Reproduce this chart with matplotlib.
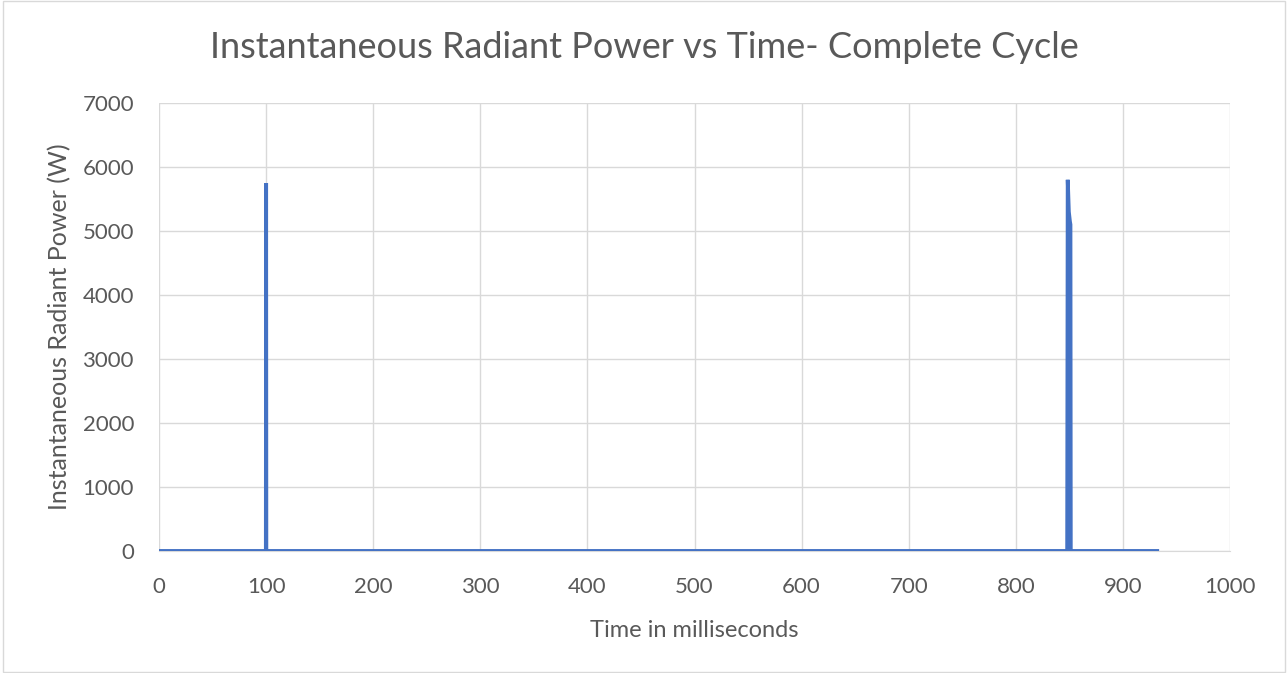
import matplotlib
matplotlib.use("Agg")
import matplotlib.pyplot as plt
from matplotlib.patches import Rectangle

# Data (time in ms, power in W)
time_ms = [0, 99.8, 100.0, 100.2, 848.0, 848.5, 849.5, 850.5, 851.0, 851.3, 932]
power_w = [0, 0, 5750, 0, 0, 5800, 5300, 5150, 5100, 0, 0]

x_ticks = [0, 100, 200, 300, 400, 500, 600, 700, 800, 900, 1000]
y_ticks = [0, 1000, 2000, 3000, 4000, 5000, 6000, 7000]

plt.rcParams['font.family'] = ['Lato', 'DejaVu Sans']
txt = '#595959'

fig = plt.figure(figsize=(12.88, 6.73), dpi=100)
ax = fig.add_axes([159/1288, 1-551/673, (1230-159)/1288, (551-103)/673])

ax.plot(time_ms, power_w, color='#4472C4', lw=2.8, solid_joinstyle='miter', zorder=3)

ax.set_xlim(0, 1000)
ax.set_ylim(0, 7000)
ax.set_xticks(x_ticks)
ax.set_yticks(y_ticks)
ax.grid(True, color='#D9D9D9', lw=1.0)
ax.set_axisbelow(True)
for s in ['top', 'right', 'left']:
    ax.spines[s].set_visible(False)
ax.spines['bottom'].set_color('#D9D9D9')
ax.tick_params(axis='x', length=0, labelsize=16, labelcolor=txt, pad=19)
ax.tick_params(axis='y', length=0, labelsize=16, labelcolor=txt, pad=18)

ax.set_xlabel('Time in milliseconds', fontsize=17, color=txt, labelpad=16)
ax.set_ylabel('Instantaneous Radiant Power (W)', fontsize=18, color=txt, labelpad=8)
fig.text(0.5, 1-47/673, 'Instantaneous Radiant Power vs Time- Complete Cycle',
         ha='center', va='center', fontsize=26, color=txt)

fig.patches.append(Rectangle((0.002, 0.002), 0.996, 0.996, transform=fig.transFigure,
                             fill=False, edgecolor='#D9D9D9', lw=1))

fig.savefig('out.png', dpi=100, facecolor='white')
